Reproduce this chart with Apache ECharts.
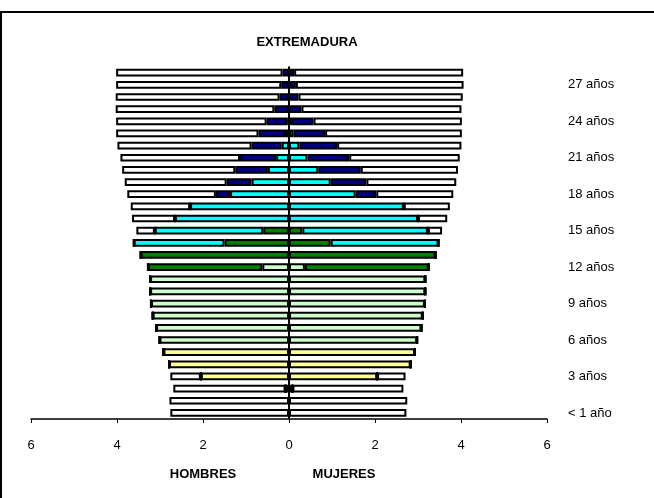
<!DOCTYPE html>
<html>
<head>
<meta charset="utf-8">
<script src="https://cdn.jsdelivr.net/npm/echarts@6/dist/echarts.min.js"></script>
<style>
  html, body { margin: 0; padding: 0; background: #fff; }
  #main { width: 654px; height: 498px; }
</style>
</head>
<body>
<div id="main"></div>
<script>
// edades: < 1 año ... 28 años (de abajo a arriba)
var ages = ['< 1 año'];
for (var i = 1; i <= 28; i++) ages.push(i + ' años');

// totales por edad
var menTotal = [2.76,2.78,2.69,2.76,2.79,2.92,3.01,3.09,3.17,3.21,3.23,3.23,3.28,3.45,3.61,3.55,3.65,3.68,3.76,3.82,3.88,3.92,3.99,4.02,4.02,4.03,4.03,4.02,4.02];
var womenTotal = [2.73,2.75,2.66,2.71,2.83,2.93,2.98,3.08,3.11,3.16,3.17,3.17,3.25,3.41,3.48,3.56,3.68,3.74,3.82,3.89,3.93,3.97,4.01,4.02,4.02,4.01,4.04,4.06,4.05];

// hombres por nivel
var menGuarderia = [0,0,0.08,0,0,0,0,0,0,0,0,0,0,0,0,0,0,0,0,0,0,0,0,0,0,0,0,0,0];
var menInfantil  = [0,0,0,2.05,2.79,2.92,0,0,0,0,0,0,0,0,0,0,0,0,0,0,0,0,0,0,0,0,0,0,0];
var menPrimaria  = [0,0,0,0,0,0,3.01,3.09,3.17,3.21,3.23,3.23,0.62,0,0,0,0,0,0,0,0,0,0,0,0,0,0,0,0];
var menESO       = [0,0,0,0,0,0,0,0,0,0,0,0,2.66,3.45,1.50,0.60,0,0,0,0,0,0,0,0,0,0,0,0,0];
var menBach      = [0,0,0,0,0,0,0,0,0,0,0,0,0,0,2.11,2.52,2.65,2.30,1.37,0.87,0.49,0.30,0.17,0.07,0.03,0,0,0,0];
var menUniv      = [0,0,0,0,0,0,0,0,0,0,0,0,0,0,0,0,0,0,0.33,0.58,0.76,0.84,0.70,0.64,0.49,0.34,0.22,0.18,0.15];

// mujeres por nivel
var womenGuarderia = [0,0,0.08,0,0,0,0,0,0,0,0,0,0,0,0,0,0,0,0,0,0,0,0,0,0,0,0,0,0];
var womenInfantil  = [0,0,0,2.05,2.83,2.93,0,0,0,0,0,0,0,0,0,0,0,0,0,0,0,0,0,0,0,0,0,0,0];
var womenPrimaria  = [0,0,0,0,0,0,2.98,3.08,3.11,3.16,3.17,3.17,0.37,0,0,0,0,0,0,0,0,0,0,0,0,0,0,0,0];
var womenESO       = [0,0,0,0,0,0,0,0,0,0,0,0,2.88,3.41,0.97,0.31,0,0,0,0,0,0,0,0,0,0,0,0,0];
var womenBach      = [0,0,0,0,0,0,0,0,0,0,0,0,0,0,2.51,2.92,3.00,2.67,1.55,0.97,0.68,0.43,0.24,0.10,0.07,0,0,0,0];
var womenUniv      = [0,0,0,0,0,0,0,0,0,0,0,0,0,0,0,0,0,0,0.48,0.83,0.99,0.97,0.88,0.74,0.50,0.29,0.22,0.16,0.12];

var xTicks = [-6, -4, -2, 0, 2, 4, 6];

var colors = ['#000000', '#ffff99', '#ccffcc', '#008000', '#00ffff', '#000080', '#ffffff'];
var font = 'Liberation Sans, Arial, sans-serif';

function rest(total, parts) {
  return total.map(function (t, i) {
    var s = 0;
    parts.forEach(function (p) { s += p[i]; });
    return Math.max(0, +(t - s).toFixed(2));
  });
}

var menParts = [menGuarderia, menInfantil, menPrimaria, menESO, menBach, menUniv];
var womenParts = [womenGuarderia, womenInfantil, womenPrimaria, womenESO, womenBach, womenUniv];
menParts.push(rest(menTotal, menParts));
womenParts.push(rest(womenTotal, womenParts));

function makeSeries(parts, stack, sign) {
  return parts.map(function (arr, k) {
    return {
      type: 'bar',
      stack: stack,
      barWidth: 7.7,
      barGap: '-100%',
      data: arr.map(function (v) { return sign * v; }),
      itemStyle: { color: colors[k], borderColor: '#000', borderWidth: 2 },
      silent: true
    };
  });
}

var series = makeSeries(menParts, 'H', -1).concat(makeSeries(womenParts, 'M', 1));
series[0].markLine = {
  silent: true,
  symbol: 'none',
  label: { show: false },
  lineStyle: { color: '#000', width: 2, type: 'solid' },
  data: [{ xAxis: 0 }]
};

var chart = echarts.init(document.getElementById('main'));
chart.setOption({
  animation: false,
  textStyle: { fontFamily: font },
  grid: { left: 31, right: 107, top: 66.6, bottom: 79 },
  xAxis: {
    type: 'value',
    min: xTicks[0],
    max: xTicks[xTicks.length - 1],
    interval: 2,
    axisLine: { show: true, lineStyle: { color: '#000', width: 1.5 } },
    axisTick: { show: true, length: 4, lineStyle: { color: '#000' } },
    splitLine: { show: false },
    axisLabel: {
      color: '#000', fontSize: 13, margin: 20, fontFamily: font,
      formatter: function (v) { return Math.abs(v); }
    }
  },
  yAxis: {
    type: 'category',
    data: ages,
    position: 'right',
    axisLine: { show: false, onZero: false },
    axisTick: { show: false },
    axisLabel: { interval: 2, color: '#000', fontSize: 13, margin: 21, align: 'left', fontFamily: font }
  },
  graphic: [
    { type: 'rect', shape: { x: 1, y: 12, width: 700, height: 600 }, style: { fill: 'none', stroke: '#000', lineWidth: 2 }, silent: true },
    { type: 'text', x: 307, y: 42, style: { text: 'EXTREMADURA', font: 'bold 13px Liberation Sans', fill: '#000', textAlign: 'center', textVerticalAlign: 'middle' } },
    { type: 'text', x: 203, y: 474, style: { text: 'HOMBRES', font: 'bold 13px Liberation Sans', fill: '#000', textAlign: 'center', textVerticalAlign: 'middle' } },
    { type: 'text', x: 344, y: 474, style: { text: 'MUJERES', font: 'bold 13px Liberation Sans', fill: '#000', textAlign: 'center', textVerticalAlign: 'middle' } }
  ],
  series: series
});
</script>
</body>
</html>
